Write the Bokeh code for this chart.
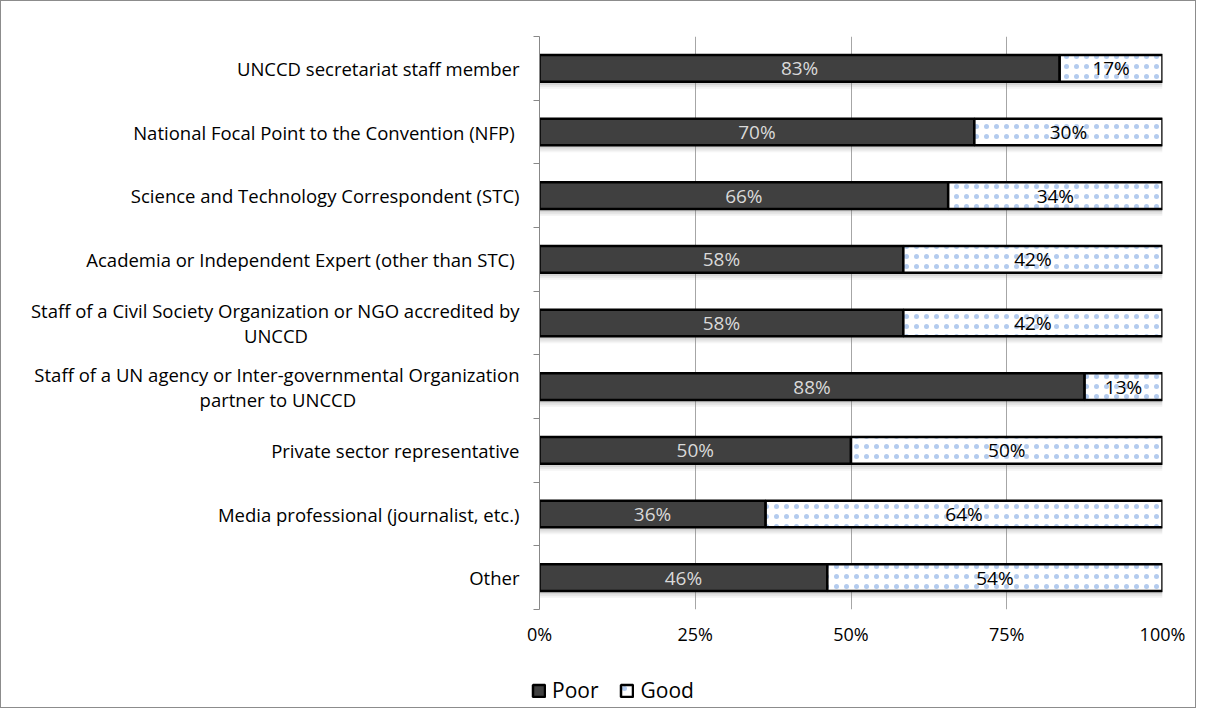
from bokeh.plotting import figure
from bokeh.layouts import column
from bokeh.models import FixedTicker, Legend, LegendItem, ColumnDataSource, LabelSet
from bokeh.transform import dodge
from bokeh.core.properties import value
from bokeh.embed import file_html
from bokeh.resources import INLINE

categories = [
    "UNCCD secretariat staff member",
    "National Focal Point to the Convention  (NFP)",
    "Science and Technology Correspondent (STC)",
    "Academia or Independent Expert  (other than STC)",
    "Staff of a Civil Society Organization or NGO accredited by\nUNCCD",
    "Staff of a UN agency or Inter-governmental Organization\npartner to UNCCD",
    "Private sector representative",
    "Media professional (journalist, etc.)",
    "Other",
]
poor = [83.5, 69.8, 65.6, 58.4, 58.4, 87.5, 50.0, 36.3, 46.2]
good = [16.5, 30.2, 34.4, 41.6, 41.6, 12.5, 50.0, 63.7, 53.8]
poor_labels = ["83%", "70%", "66%", "58%", "58%", "88%", "50%", "36%", "46%"]
good_labels = ["17%", "30%", "34%", "42%", "42%", "13%", "50%", "64%", "54%"]
x_ticks = [0, 25, 50, 75, 100]
x_tick_labels = ["0%", "25%", "50%", "75%", "100%"]
series_names = ["Poor", "Good"]

FONT = "Open Sans"
NBSP = "\u00a0"
n = len(categories)
ypos = [n - 0.5 - i for i in range(n)]

# second lines of wrapped labels are centred under the first line (padding with no-break spaces)
second_line_pad = {4: 44, 5: 34}
display_labels = []
for i, c in enumerate(categories):
    if "\n" in c:
        a, b = c.split("\n")
        c = a + "\n" + b + NBSP * second_line_pad.get(i, 0)
    display_labels.append(c)

src = ColumnDataSource(dict(
    y=ypos, poor=poor, good=good, total=[p + g for p, g in zip(poor, good)],
    pmid=[p / 2 for p in poor], gmid=[p + g / 2 for p, g in zip(poor, good)],
    pl=poor_labels, gl=good_labels,
))

p = figure(width=1196, height=660, x_range=(0, 100), y_range=(0, n),
           output_backend="svg", toolbar_location=None,
           min_border_left=538, min_border_right=35, min_border_top=35, min_border_bottom=52)
p.styles = {"border": "1px solid #8c8c8c", "border-bottom": "none", "box-sizing": "border-box"}
p.outline_line_color = None

BAR_H = 0.42
POOR_STYLE = dict(fill_color="#404040", line_color="black", line_width=2.5)
GOOD_STYLE = dict(fill_color="white", line_color="black", line_width=2.5,
                  hatch_pattern="dot", hatch_color="#b3cbee", hatch_scale=10, hatch_weight=0.9)

# soft shadow under bars
for off, alpha in [(-0.11, 0.08), (-0.08, 0.12), (-0.05, 0.16)]:
    p.hbar(y=dodge("y", off, range=p.y_range), left=0, right="total", height=BAR_H, source=src,
           fill_color="#7f7f7f", fill_alpha=alpha, line_color=None)

p.hbar(y="y", left=0, right="poor", height=BAR_H, source=src, **POOR_STYLE)
p.hbar(y="y", left="poor", right="total", height=BAR_H, source=src, **GOOD_STYLE)

p.add_layout(LabelSet(x="pmid", y="y", text="pl", source=src, text_align="center",
                      text_baseline="middle", text_color="#d9d9d9", text_font_size="19px",
                      text_font=value(FONT)))
p.add_layout(LabelSet(x="gmid", y="y", text="gl", source=src, text_align="center",
                      text_baseline="middle", text_color="black", text_font_size="19px",
                      text_font=value(FONT)))

# x axis
p.xaxis.ticker = FixedTicker(ticks=x_ticks)
p.xaxis.major_label_overrides = {t: l for t, l in zip(x_ticks, x_tick_labels)}
p.xaxis.axis_line_color = None
p.xaxis.major_tick_line_color = None
p.xaxis.minor_tick_line_color = None
p.xaxis.major_label_standoff = 6
p.xaxis.major_label_text_font = FONT
p.xaxis.major_label_text_font_size = "18px"
p.xaxis.major_label_text_color = "black"

# y axis
p.yaxis.ticker = FixedTicker(ticks=ypos, minor_ticks=list(range(n + 1)))
p.yaxis.major_label_overrides = {y: c for y, c in zip(ypos, display_labels)}
p.yaxis.axis_line_color = "#888888"
p.yaxis.major_tick_line_color = None
p.yaxis.minor_tick_line_color = "#888888"
p.yaxis.minor_tick_out = 6
p.yaxis.minor_tick_in = 0
p.yaxis.major_label_standoff = 14
p.yaxis.major_label_text_font = FONT
p.yaxis.major_label_text_font_size = "18.5px"
p.yaxis.major_label_text_line_height = 1.0
p.yaxis.major_label_text_color = "black"

p.xgrid.grid_line_color = "#a6a6a6"
p.xgrid.ticker = FixedTicker(ticks=x_ticks)
p.ygrid.grid_line_color = None

# legend strip (legend-only renderers sit outside the visible range)
q = figure(width=1196, height=48, x_range=(0, 1), y_range=(0, 1),
           output_backend="svg", toolbar_location=None,
           min_border_left=514, min_border_right=0, min_border_top=0, min_border_bottom=0)
q.frame_align = False
q.styles = {"border": "1px solid #8c8c8c", "border-top": "none", "box-sizing": "border-box"}
q.outline_line_color = None
q.axis.visible = False
q.grid.grid_line_color = None
lp = q.hbar(y=[-5], left=[0], right=[1], height=0.5, **POOR_STYLE)
lg = q.hbar(y=[-5], left=[0], right=[1], height=0.5, **GOOD_STYLE)
legend = Legend(items=[LegendItem(label=series_names[0], renderers=[lp]),
                       LegendItem(label=series_names[1], renderers=[lg])],
                orientation="horizontal", location="top_left",
                label_text_font=FONT, label_text_font_size="21px", label_text_color="black",
                glyph_width=15, glyph_height=15, spacing=21, label_standoff=6,
                padding=0, margin=16,
                border_line_color=None, background_fill_alpha=0)
q.add_layout(legend, "center")

layout = column(p, q, spacing=0)
open("out.html", "w").write(file_html(layout, INLINE))
